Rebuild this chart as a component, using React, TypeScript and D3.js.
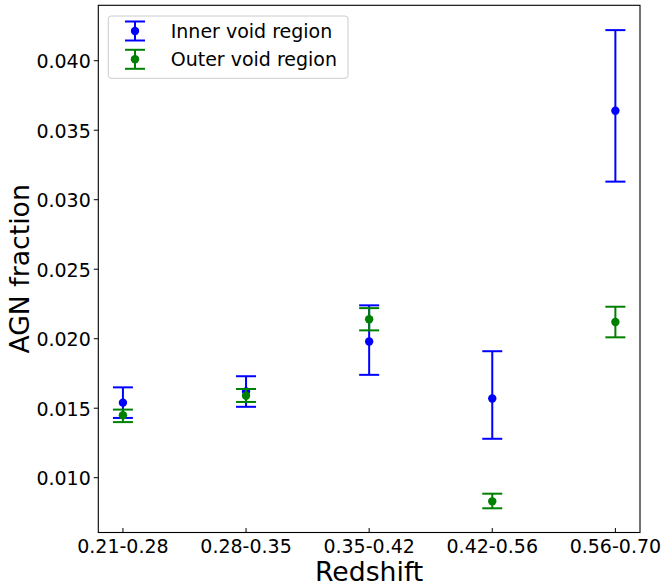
import React from "react";
import * as d3 from "d3";

const categories = ["0.21-0.28", "0.28-0.35", "0.35-0.42", "0.42-0.56", "0.56-0.70"];
const innerValues = [0.0154, 0.0162, 0.0198, 0.0157, 0.0364];
const innerErrLow = [0.0011, 0.0011, 0.0024, 0.0029, 0.0051];
const innerErrHigh = [0.0011, 0.0011, 0.0026, 0.0034, 0.0058];
const outerValues = [0.0145, 0.0159, 0.0214, 0.0083, 0.0212];
const outerErrLow = [0.0005, 0.00045, 0.0008, 0.0005, 0.0011];
const outerErrHigh = [0.0004, 0.00048, 0.0008, 0.00055, 0.0011];
const yTicks = [0.01, 0.015, 0.02, 0.025, 0.03, 0.035, 0.04];

const series = [
  { name: "Inner void region", color: "#0000ff", values: innerValues, lo: innerErrLow, hi: innerErrHigh },
  { name: "Outer void region", color: "#008000", values: outerValues, lo: outerErrLow, hi: outerErrHigh },
];

const W = 663;
const H = 588;
const left = 98.3;
const right = 640;
const top = 5.3;
const bottom = 532.5;
const FONT = "DejaVu Sans, sans-serif";

export default function App() {
  const x = d3.scaleLinear().domain([-0.2, categories.length - 1 + 0.2]).range([left, right]);
  const y = d3.scaleLinear().domain([0.006058, 0.043986]).range([bottom, top]);
  const cap = 10;

  const ErrGlyph = ({ cx, cy, yl, yh, color }: any) => (
    <g>
      <line x1={cx} x2={cx} y1={yl} y2={yh} stroke={color} strokeWidth={2} />
      <line x1={cx - cap} x2={cx + cap} y1={yl} y2={yl} stroke={color} strokeWidth={2} />
      <line x1={cx - cap} x2={cx + cap} y1={yh} y2={yh} stroke={color} strokeWidth={2} />
      <circle cx={cx} cy={cy} r={4.2} fill={color} />
    </g>
  );

  return (
    <div style={{ position: "absolute", left: 0, top: 0 }}>
      <svg width={W} height={H} style={{ display: "block", background: "#fff" }} fontFamily={FONT}>
        <rect x={0} y={0} width={W} height={H} fill="#fff" />
        {/* y ticks */}
        {yTicks.map((t) => (
          <g key={t}>
            <line x1={left - 4.5} x2={left} y1={y(t)} y2={y(t)} stroke="#000" strokeWidth={1} />
            <text x={left - 7.5} y={y(t)} dy={7.6} textAnchor="end" fontSize={19} fill="#000">
              {d3.format(".3f")(t)}
            </text>
          </g>
        ))}
        {/* x ticks */}
        {categories.map((c, i) => (
          <g key={c}>
            <line x1={x(i)} x2={x(i)} y1={bottom} y2={bottom - 4.5} stroke="#000" strokeWidth={1} />
            <text x={x(i)} y={bottom + 20.3} textAnchor="middle" fontSize={19} fill="#000">
              {c}
            </text>
          </g>
        ))}
        {/* data */}
        {series.map((s) => (
          <g key={s.name}>
            {s.values.map((v, i) => (
              <ErrGlyph
                key={i}
                cx={x(i)}
                cy={y(v)}
                yl={y(v - s.lo[i])}
                yh={y(v + s.hi[i])}
                color={s.color}
              />
            ))}
          </g>
        ))}
        {/* frame */}
        <rect x={left} y={top} width={right - left} height={bottom - top} fill="none" stroke="#000" strokeWidth={1.1} />
        {/* legend */}
        <g>
          <rect x={108.3} y={16} width={239.7} height={62.3} rx={3} fill="#fff" fillOpacity={0.8} stroke="#cccccc" strokeWidth={1} />
          {series.map((s, k) => {
            const cy = 31 + k * 28.3;
            return (
              <g key={s.name}>
                <ErrGlyph cx={135} cy={cy} yl={cy + 9.5} yh={cy - 9.5} color={s.color} />
                <text x={170.7} y={cy} dy={7} fontSize={19} fill="#000">
                  {s.name}
                </text>
              </g>
            );
          })}
        </g>
        {/* axis labels */}
        <text x={(left + right) / 2} y={580.7} textAnchor="middle" fontSize={26.7} fill="#000">
          Redshift
        </text>
        <text
          transform={`translate(29,${(top + bottom) / 2}) rotate(-90)`}
          textAnchor="middle"
          fontSize={26.7}
          fill="#000"
        >
          AGN fraction
        </text>
      </svg>
    </div>
  );
}
